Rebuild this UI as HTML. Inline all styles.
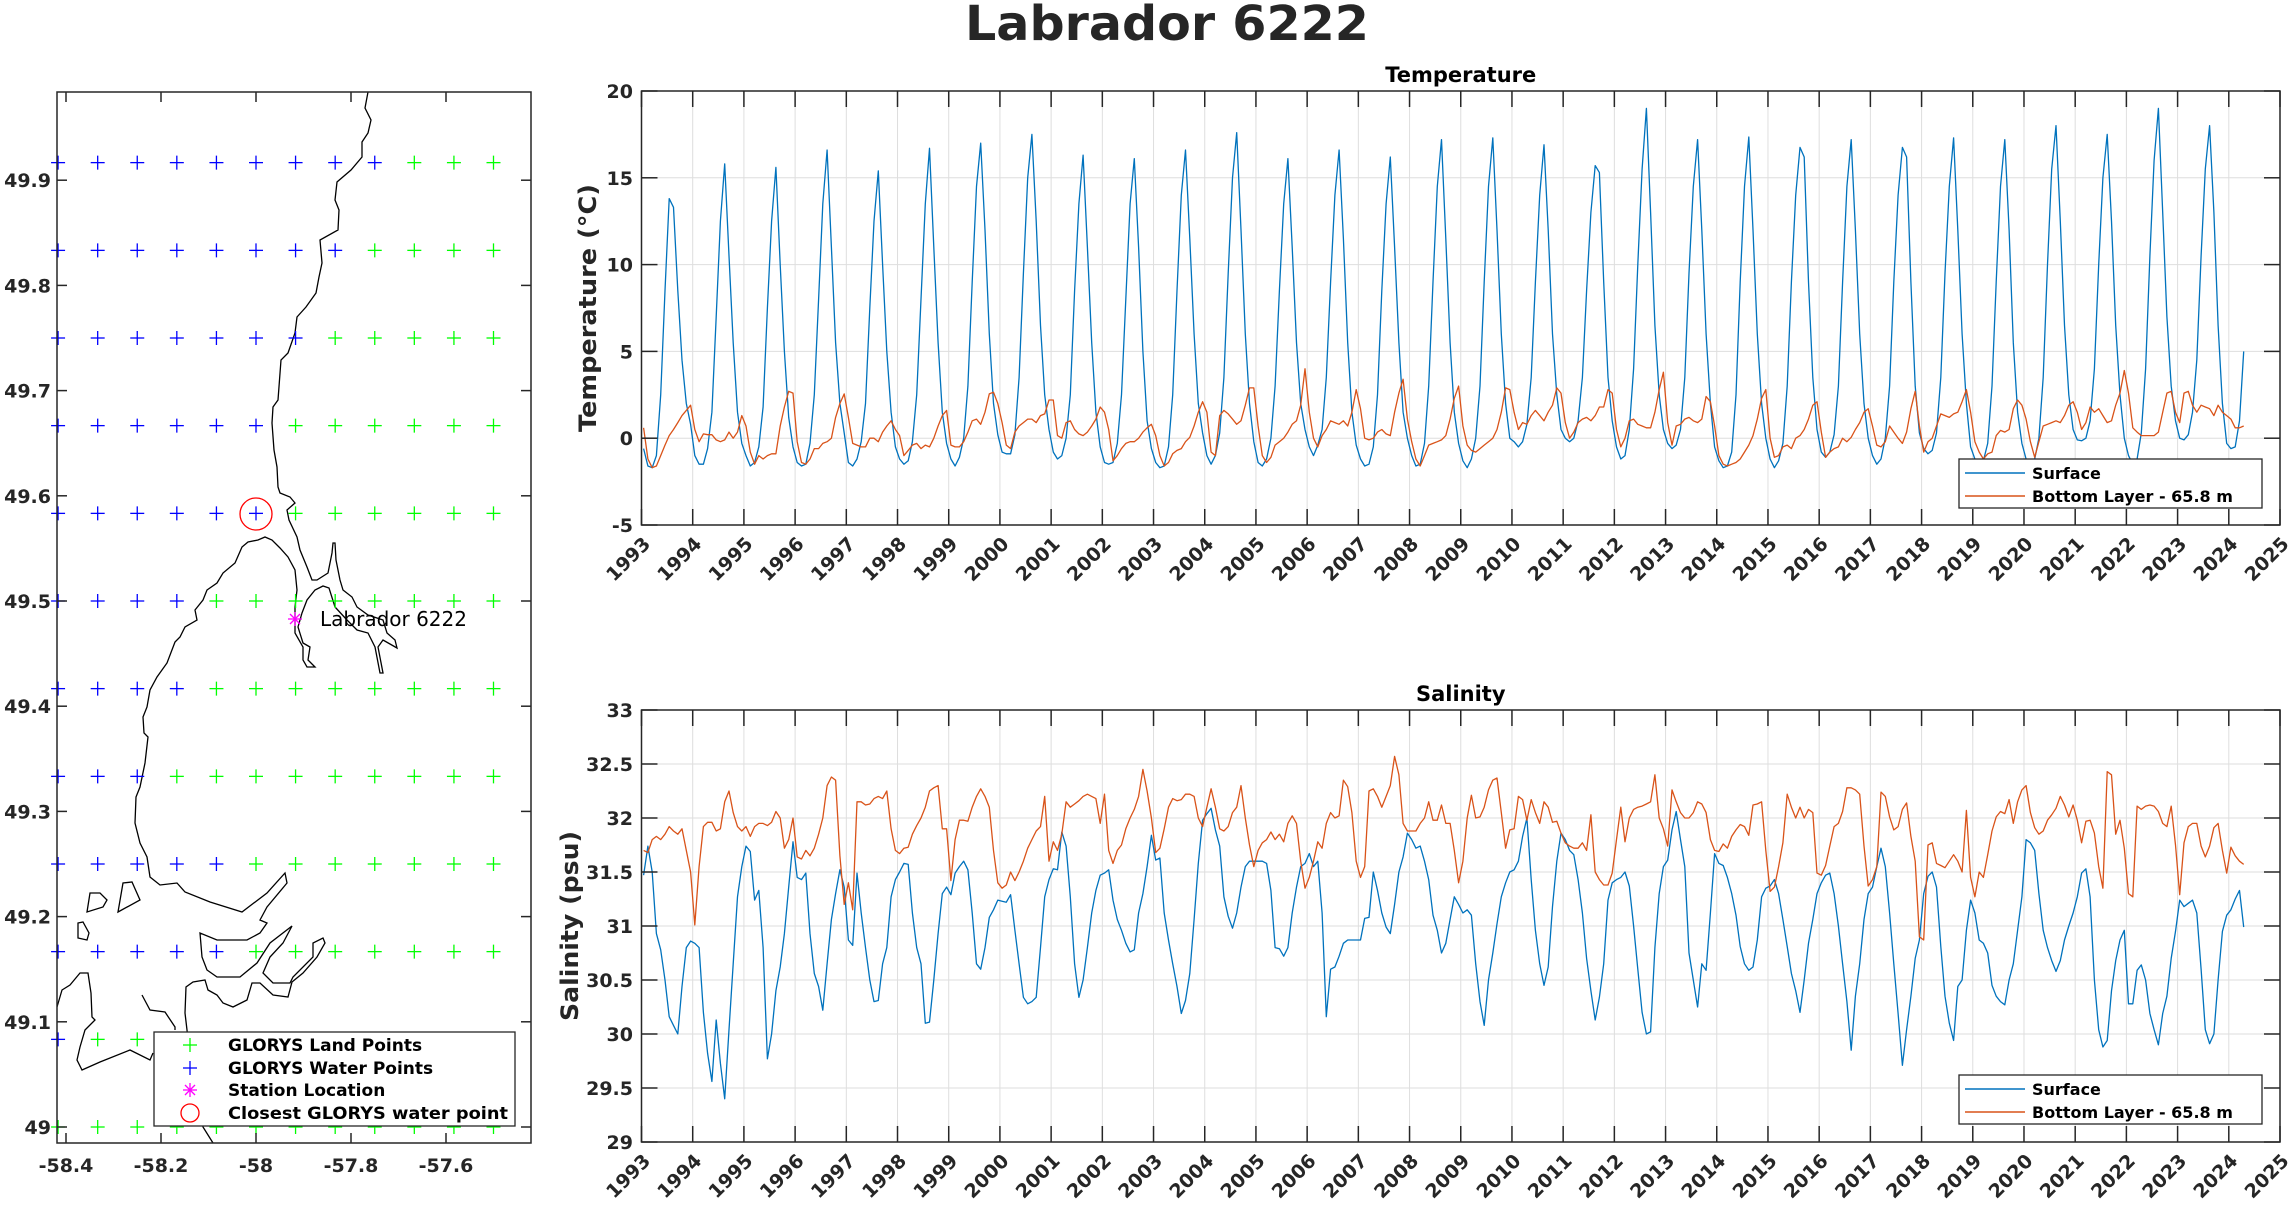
<!DOCTYPE html>
<html><head><meta charset="utf-8"><title>Labrador 6222</title>
<style>
html,body{margin:0;padding:0;background:#fff;}
svg{display:block;font-family:"DejaVu Sans","Liberation Sans",sans-serif;}
.tk{font-weight:bold;font-size:19px;fill:#262626;}
</style></head>
<body>
<svg id="fig" width="2292" height="1205" viewBox="0 0 2292 1205" xmlns="http://www.w3.org/2000/svg">
<rect x="0" y="0" width="2292" height="1205" fill="#fff"/>
<text x="1167" y="40" text-anchor="middle" font-size="48" font-weight="bold" fill="#262626" textLength="404" lengthAdjust="spacingAndGlyphs">Labrador 6222</text>

<g id="map">
<defs><clipPath id="mapclip"><rect x="57" y="92" width="474" height="1051"/></clipPath></defs>
<rect x="57" y="92" width="474" height="1051" fill="#fff"/>
<g clip-path="url(#mapclip)" fill="none" stroke="#000" stroke-width="1.3">
<polyline points="368,92 365,108 371,120 368,133 362,142 362,157 351,170 337,182 335,200 339,210 338,230 320,240 322,263 319,277 316,293 306,307 297,317 295,333 288,353 281,360 278,400 273,407 272,423 274,450 277,467 278,487 280,493 290,497 295,503 287,510 289,520 297,537 300,550 307,567 312,580 317,580 328,573 332,553 333,543 335,543 336,560 340,580 343,590 352,597 357,607 368,615 383,620 387,633 395,640 397,648 383,640 378,647 383,673 380,673 375,647 368,633 357,630 347,620 335,607 329,588 323,586 315,590 307,600 302,613 298,627 303,643 310,647 308,660 315,667 307,667 303,660 303,647 295,633 295,607 297,590 295,570 288,557 280,548 272,540 265,537 258,540 248,542 242,547 235,563 223,573 217,583 207,590 203,600 195,610 197,620 185,627 180,637 175,642 167,663 157,677 150,690 147,707 143,717 144,733 148,737 145,763 140,787 136,797 135,823 140,843 147,857 150,877 160,885 177,883 185,892 210,902 242,912 267,893 285,873 287,883 267,907 260,920 267,923 260,933 247,940 217,940 200,933 202,957 207,970 217,977 240,977 257,963 270,943 292,926 283,943 270,957 263,973 273,983 290,983 293,977 313,957 313,943 323,938 325,943 317,957 303,973 292,982 288,997 273,995 260,983 252,983 247,1000 233,1007 223,1003 217,995 208,990 205,980 193,982 186,987 185,1013 187,1030 190,1060 195,1090 203,1127 213,1143"/>
<polyline points="57,1007 62,990 70,985 80,973 88,973 91,993 92,1017 95,1020 85,1030 80,1047 77,1060 82,1070 100,1062 130,1050 150,1060 153,1053"/>
<polygon points="90,893 100,893 107,900 103,907 87,912"/>
<polygon points="118,912 140,900 132,882 123,883"/>
<polygon points="78,923 83,922 89,933 87,940 78,938"/>
<polyline points="142,995 150,1010 165,1012 175,1027 175,1030"/>
</g>
<g id="map-points"></g>
<circle cx="256" cy="514" r="16" fill="none" stroke="#ff0000" stroke-width="1.3"/>
<g stroke="#ff00ff" stroke-width="1.3">
<line x1="288" y1="619" x2="302" y2="619"/><line x1="295" y1="612" x2="295" y2="626"/><line x1="290" y1="614" x2="300" y2="624"/><line x1="290" y1="624" x2="300" y2="614"/>
</g>
<text x="320" y="626" font-size="20" fill="#000">Labrador 6222</text>
<rect x="57" y="92" width="474" height="1051" fill="none" stroke="#262626" stroke-width="1.5"/>
<g id="map-ticks" stroke="#262626" stroke-width="1.5"></g>
<g id="map-labels"></g>
<g>
<rect x="154" y="1032" width="361" height="94" fill="#fff" stroke="#262626" stroke-width="1.3"/>
<g stroke="#00ff00" stroke-width="1.3"><line x1="183" y1="1045" x2="197" y2="1045"/><line x1="190" y1="1038" x2="190" y2="1052"/></g>
<g stroke="#0000ff" stroke-width="1.3"><line x1="183" y1="1068" x2="197" y2="1068"/><line x1="190" y1="1061" x2="190" y2="1075"/></g>
<g stroke="#ff00ff" stroke-width="1.3"><line x1="183" y1="1090" x2="197" y2="1090"/><line x1="190" y1="1083" x2="190" y2="1097"/><line x1="185" y1="1085" x2="195" y2="1095"/><line x1="185" y1="1095" x2="195" y2="1085"/></g>
<circle cx="190" cy="1113" r="9" fill="none" stroke="#ff0000" stroke-width="1.3"/>
<g font-size="17" font-weight="bold" fill="#000">
<text x="228" y="1051">GLORYS Land Points</text>
<text x="228" y="1074">GLORYS Water Points</text>
<text x="228" y="1096">Station Location</text>
<text x="228" y="1119" textLength="280" lengthAdjust="spacingAndGlyphs">Closest GLORYS water point</text>
</g>
</g>
</g>

<g id="temp"></g>
<g id="sal"></g>
</svg>

<script>
// ---------- data ----------
const startYear = 1993;
const yearTicks = [1993,1994,1995,1996,1997,1998,1999,2000,2001,2002,2003,2004,2005,2006,2007,2008,2009,2010,2011,2012,2013,2014,2015,2016,2017,2018,2019,2020,2021,2022,2023,2024,2025];
const tempTicks = [-5,0,5,10,15,20];
const salTicks = [29,29.5,30,30.5,31,31.5,32,32.5,33];
const tempTickLabels = ['-5','0','5','10','15','20'];
const salTickLabels = ['29','29.5','30','30.5','31','31.5','32','32.5','33'];
const legendLabels = ['Surface','Bottom Layer - 65.8 m'];

const surfaceTemp = [
-0.6,-1.6,-1.7,-1.0,2.5,8.5,13.8,13.3,8.5,4.5,2.0,0.8,
-1.0,-1.5,-1.5,-0.6,1.5,7.0,12.5,15.8,10.5,5.5,1.5,-0.3,
-1.0,-1.6,-1.4,-0.5,1.8,7.5,12.5,15.6,10.0,5.0,1.2,-0.5,
-1.4,-1.6,-1.5,-0.3,2.5,8.0,13.5,16.6,11.0,5.5,2.0,0.3,
-1.4,-1.6,-1.2,-0.2,2.0,7.5,12.5,15.4,10.0,5.0,1.5,-0.5,
-1.2,-1.5,-1.3,-0.2,2.5,8.0,13.5,16.7,11.0,5.5,1.5,-0.3,
-1.2,-1.6,-1.1,0,3.0,9.0,14.5,17.0,12.0,6.0,2.0,0.2,
-0.8,-0.9,-0.9,0.2,3.5,9.5,15.0,17.5,12.5,6.5,2.5,0.5,
-0.8,-1.2,-1.0,0,2.5,8.5,13.5,16.3,11.0,5.5,1.5,-0.5,
-1.4,-1.5,-1.4,-0.3,2.5,8.0,13.5,16.1,11.0,5.0,1.0,-0.6,
-1.4,-1.7,-1.6,-0.5,2.5,8.5,14.0,16.6,11.5,6.0,2.0,0.3,
-1.0,-1.5,-1.0,0.3,3.5,9.5,15.0,17.6,12.0,6.0,2.0,-0.2,
-1.4,-1.6,-1.2,0,3.0,8.5,13.5,16.1,11.0,5.5,2.0,0.5,
-0.5,-1.0,-0.4,0.5,3.5,9.0,14.0,16.6,11.5,5.5,1.5,-0.4,
-1.2,-1.6,-1.5,-0.5,2.5,8.5,13.5,16.2,11.0,5.5,1.5,0,
-1.0,-1.6,-1.5,-0.3,3.0,9.0,14.5,17.2,11.5,5.5,1.5,-0.3,
-1.3,-1.7,-1.2,0,3.0,9.0,14.5,17.3,12.0,6.0,2.0,0,
-0.2,-0.5,-0.2,0.8,3.5,9.0,14.0,16.9,12.0,6.0,2.5,0.5,
0,-0.2,0,1.0,3.5,8.5,13.0,15.7,15.3,9.0,3.5,1.0,
-0.5,-1.2,-1.0,0.5,4.0,10.0,15.5,19.0,13.0,6.5,2.5,0.5,
-0.3,-0.6,-0.4,0.5,3.5,9.5,14.5,17.2,12.0,6.0,2.0,-0.5,
-1.3,-1.7,-1.6,-0.8,2.5,9.0,14.5,17.35,12.0,6.0,2.0,0,
-1.2,-1.7,-1.3,-0.3,3.0,9.0,14.0,16.75,16.2,9.0,3.5,0.5,
-0.8,-1.1,-0.8,0.2,3.0,9.0,14.5,17.2,12.0,6.0,2.0,0,
-1.0,-1.5,-1.2,0,3.0,9.0,14.0,16.75,16.2,9.0,3.0,0.3,
-0.6,-0.9,-0.7,0.3,3.5,9.5,14.5,17.3,12.0,6.0,2.0,-0.5,
-1.2,-1.5,-1.3,-0.3,3.0,9.0,14.5,17.2,12.0,5.5,1.5,-0.3,
-1.2,-1.5,-1.2,0,3.5,10.0,15.5,18.0,12.5,6.5,2.5,0.5,
-0.1,-0.15,0,1.0,4.0,10.0,15.0,17.5,12.5,6.5,2.5,0,
-1.0,-1.5,-1.2,0.3,4.0,10.5,16.0,19.0,13.0,7.0,3.0,1.0,
0,-0.1,0.2,1.5,4.5,10.5,15.5,18.0,13.0,6.5,2.0,-0.3,
-0.6,-0.5,1.0,5.0];

const bottomTemp = [
0.6,-1.2,-1.7,-1.6,-1.0,-0.4,0.15,0.5,0.9,1.3,1.6,1.9,
0.5,-0.2,0.25,0.2,0.2,-0.1,-0.2,-0.1,0.35,0,0.35,1.3,
0.7,-0.8,-1.5,-1.0,-1.2,-1.0,-0.9,-0.9,0.7,1.8,2.7,2.6,
-0.2,-1.4,-1.5,-1.2,-0.6,-0.6,-0.3,-0.2,0,1.2,2.0,2.55,
1.2,-0.3,-0.4,-0.5,-0.5,0,0,-0.2,0.35,0.7,1.0,0.5,
0.15,-1.0,-0.7,-0.4,-0.3,-0.6,-0.4,-0.5,0,0.7,1.3,1.6,
-0.4,-0.5,-0.5,-0.2,0.35,1.0,1.1,0.8,1.5,2.55,2.65,2.0,
0.9,-0.4,-0.6,0.35,0.7,0.9,1.1,1.1,0.9,1.3,1.4,2.2,
2.2,0.15,0,0.9,1.0,0.5,0.25,0.15,0.35,0.7,1.1,1.8,
1.5,0.5,-1.3,-1.0,-0.6,-0.3,-0.2,-0.2,0,0.35,0.6,0.8,
0.15,-1.0,-1.6,-1.4,-0.9,-0.7,-0.6,-0.2,0.05,0.7,1.5,2.1,
1.5,-0.8,-1.0,1.3,1.6,1.4,1.1,0.8,1.0,1.9,2.9,2.9,
0.7,-1.0,-1.4,-1.1,-0.4,-0.2,0,0.35,0.8,1.0,1.9,4.0,
1.5,0,-0.5,0.15,0.5,1.0,0.9,0.8,1.0,0.7,1.5,2.8,
1.7,0,-0.1,0,0.35,0.5,0.25,0.15,1.5,2.6,3.4,1.1,
-0.2,-1.2,-1.6,-1.0,-0.4,-0.3,-0.2,-0.1,0.15,1.1,2.3,3.0,
0.7,-0.4,-0.7,-0.8,-0.6,-0.4,-0.2,0,0.5,1.5,2.9,2.8,
1.5,0.5,0.9,0.8,1.3,1.6,1.3,1.0,1.5,1.9,2.9,2.6,
0.9,0,0.35,0.9,1.1,1.2,1.0,1.3,1.8,1.8,2.8,2.6,
0.5,-0.5,0,1.0,1.1,0.8,0.7,0.6,0.6,1.5,2.8,3.8,
0.9,-0.4,0.7,0.8,1.1,1.2,1.0,0.9,1.1,2.4,2.1,0.7,
-1.0,-1.5,-1.6,-1.5,-1.4,-1.2,-0.8,-0.4,0.15,1.1,2.3,2.8,
0,-1.1,-1.0,-0.5,-0.4,-0.6,0,0.15,0.5,1.1,1.9,2.1,
0.35,-1.1,-0.8,-0.6,-0.5,0,-0.2,0.05,0.5,0.9,1.5,1.7,
0.7,-0.4,-0.5,-0.2,0.7,0.35,0,-0.3,0.35,1.7,2.7,0.7,
-0.8,-0.2,0,0.7,1.4,1.3,1.2,1.4,1.5,2.1,2.8,1.5,
-0.2,-0.8,-1.2,-0.9,-0.8,0.15,0.45,0.35,0.5,1.7,2.2,1.9,
1.1,-0.2,-1.1,-0.2,0.7,0.8,0.9,1.0,0.9,1.3,1.9,2.1,
1.5,0.5,0.9,1.8,1.5,1.7,1.3,0.9,1.0,1.9,2.6,3.9,
2.6,0.6,0.35,0.15,0.15,0.15,0.15,0.35,1.5,2.6,2.7,1.5,
0.9,2.6,2.7,1.9,1.5,1.9,1.8,1.7,1.3,1.9,1.5,1.3,
1.1,0.6,0.6,0.7];

const surfaceSal = [
31.47,31.74,31.5,30.93,30.78,30.5,30.16,30.08,30.0,30.44,30.8,30.86,
30.84,30.8,30.2,29.82,29.56,30.13,29.73,29.4,30.04,30.65,31.27,31.55,
31.74,31.69,31.24,31.33,30.8,29.77,30.0,30.4,30.62,30.93,31.36,31.78,
31.45,31.43,31.49,30.93,30.56,30.44,30.22,30.65,31.06,31.3,31.52,31.36,
30.87,30.82,31.49,31.12,30.8,30.5,30.3,30.31,30.65,30.8,31.27,31.43,
31.5,31.58,31.57,31.12,30.8,30.65,30.1,30.11,30.5,30.93,31.3,31.36,
31.29,31.49,31.55,31.6,31.52,31.12,30.65,30.6,30.8,31.08,31.15,31.24,
31.23,31.22,31.29,30.96,30.65,30.34,30.28,30.3,30.34,30.8,31.27,31.43,
31.53,31.52,31.87,31.74,31.27,30.65,30.34,30.5,30.8,31.12,31.33,31.47,
31.49,31.52,31.24,31.06,30.96,30.84,30.76,30.78,31.12,31.3,31.55,31.84,
31.61,31.63,31.12,30.87,30.65,30.44,30.19,30.31,30.56,31.06,31.58,31.98,
32.04,32.09,31.89,31.74,31.27,31.09,30.98,31.12,31.36,31.55,31.6,31.6,
31.6,31.6,31.58,31.33,30.8,30.79,30.72,30.8,31.12,31.36,31.55,31.58,
31.67,31.55,31.6,31.12,30.16,30.6,30.62,30.72,30.84,30.87,30.87,30.87,
30.87,31.07,31.08,31.5,31.33,31.12,30.99,30.93,31.2,31.5,31.64,31.86,
31.8,31.72,31.74,31.6,31.43,31.1,30.96,30.75,30.84,31.06,31.27,31.2,
31.12,31.15,31.1,30.65,30.3,30.08,30.5,30.75,31.02,31.27,31.4,31.5,
31.52,31.6,31.83,32.0,31.43,30.96,30.65,30.45,30.62,31.18,31.6,31.86,
31.8,31.7,31.66,31.43,31.12,30.7,30.4,30.13,30.34,30.65,31.24,31.4,
31.43,31.45,31.5,31.37,31.0,30.6,30.2,30.0,30.02,30.8,31.3,31.55,
31.61,31.89,32.06,31.8,31.55,30.75,30.5,30.25,30.65,30.59,31.12,31.67,
31.58,31.56,31.45,31.3,31.1,30.81,30.65,30.59,30.62,30.87,31.27,31.35,
31.37,31.43,31.3,31.06,30.81,30.56,30.4,30.2,30.5,30.84,31.06,31.3,
31.4,31.47,31.49,31.3,31.0,30.65,30.3,29.85,30.35,30.65,31.06,31.3,
31.36,31.55,31.72,31.55,31.12,30.65,30.19,29.71,30.04,30.35,30.7,30.87,
31.3,31.46,31.5,31.36,30.81,30.35,30.1,29.94,30.44,30.5,30.96,31.24,
31.12,30.87,30.84,30.75,30.45,30.35,30.3,30.27,30.5,30.65,30.96,31.27,
31.8,31.77,31.7,31.3,30.96,30.8,30.68,30.58,30.68,30.87,31.0,31.12,
31.27,31.49,31.53,31.27,30.5,30.04,29.88,29.94,30.4,30.68,30.87,30.96,
30.28,30.28,30.59,30.64,30.5,30.19,30.04,29.9,30.19,30.35,30.7,30.95,
31.24,31.18,31.21,31.24,31.12,30.6,30.04,29.91,30.0,30.5,30.95,31.1,
31.15,31.25,31.33,30.99];

const bottomSal = [
31.7,31.68,31.8,31.83,31.8,31.85,31.92,31.88,31.85,31.9,31.7,31.5,
31.01,31.55,31.92,31.96,31.96,31.88,31.9,32.15,32.25,32.05,31.92,31.88,
31.92,31.83,31.92,31.95,31.95,31.93,31.96,32.06,32.0,31.72,31.8,32.0,
31.64,31.62,31.7,31.65,31.72,31.85,32.0,32.3,32.38,32.35,31.65,31.2,
31.4,31.15,32.15,32.15,32.12,32.13,32.18,32.2,32.18,32.25,31.9,31.7,
31.67,31.72,31.73,31.85,31.93,32.0,32.1,32.25,32.28,32.3,31.9,31.9,
31.42,31.8,31.98,31.98,31.97,32.1,32.2,32.27,32.2,32.1,31.7,31.4,
31.35,31.38,31.5,31.42,31.5,31.6,31.72,31.8,31.88,31.92,32.2,31.6,
31.78,31.7,31.85,32.15,32.1,32.13,32.16,32.2,32.22,32.2,32.18,31.95,
32.22,31.7,31.58,31.7,31.75,31.9,32.0,32.08,32.2,32.45,32.25,32.0,
31.68,31.72,31.9,32.1,32.18,32.16,32.17,32.22,32.22,32.2,32.0,31.92,
32.1,32.27,32.1,31.9,31.88,31.92,32.05,32.1,32.3,32.0,31.75,31.55,
31.7,31.77,31.8,31.87,31.8,31.85,31.78,31.95,32.02,31.95,31.6,31.35,
31.45,31.6,31.78,31.72,31.95,32.05,32.0,32.02,32.35,32.29,32.05,31.6,
31.45,31.55,32.25,32.27,32.2,32.1,32.2,32.3,32.57,32.4,31.95,31.88,
31.88,31.88,31.95,32.0,32.15,31.98,31.98,32.12,31.95,31.95,31.7,31.4,
31.6,32.0,32.21,32.0,32.01,32.1,32.26,32.35,32.37,32.05,31.72,31.89,
31.9,32.2,32.17,31.98,32.17,32.05,31.95,32.15,32.1,31.96,31.97,31.86,
31.77,31.74,31.72,31.72,31.77,31.7,32.03,31.5,31.43,31.38,31.38,31.49,
31.8,32.1,31.78,32.0,32.08,32.1,32.11,32.13,32.15,32.4,32.0,31.9,
31.74,32.26,32.15,32.05,32.0,32.0,32.05,32.15,32.13,32.05,31.8,31.7,
31.69,31.76,31.72,31.83,31.89,31.94,31.92,31.84,32.12,32.13,32.15,31.7,
31.32,31.36,31.55,31.77,32.22,32.1,32.0,32.1,32.0,32.08,32.05,31.49,
31.47,31.56,31.74,31.92,31.95,32.06,32.28,32.28,32.26,32.22,31.74,31.37,
31.43,31.55,32.24,32.2,32.01,31.89,31.92,32.08,32.14,31.83,31.6,30.9,
30.87,31.75,31.77,31.58,31.56,31.54,31.6,31.66,31.6,31.5,32.07,31.45,
31.27,31.5,31.45,31.66,31.88,32.01,32.06,32.04,32.17,31.95,32.15,32.26,
32.3,32.05,31.91,31.85,31.88,31.98,32.03,32.09,32.2,32.12,32.01,32.12,
31.98,31.77,31.97,31.98,31.86,31.55,31.35,32.43,32.4,31.85,31.98,31.72,
31.3,31.27,32.11,32.08,32.11,32.12,32.11,32.06,31.95,31.92,32.11,31.75,
31.29,31.77,31.92,31.95,31.95,31.74,31.64,31.74,31.91,31.95,31.7,31.49,
31.73,31.65,31.6,31.57];

// map data
const gridLons = [-58.4167,-58.3333,-58.25,-58.1667,-58.0833,-58.0,-57.9167,-57.8333,-57.75,-57.6667,-57.5833,-57.5];
const gridLats = [49.9167,49.8333,49.75,49.6667,49.5833,49.5,49.4167,49.3333,49.25,49.1667,49.0833,49.0];
const waterCount = [9,8,7,6,6,4,4,3,5,5,1,0];
const lonTicks = [-58.4,-58.2,-58,-57.8,-57.6];
const latTicks = [49,49.1,49.2,49.3,49.4,49.5,49.6,49.7,49.8,49.9];

// ---------- helpers ----------
const NS = 'http://www.w3.org/2000/svg';
function mk(tag, attrs, parent){ const e=document.createElementNS(NS,tag); for(const k in attrs) e.setAttribute(k,attrs[k]); parent.appendChild(e); return e; }

// map axes
const mx = lon => 256 + (lon + 58) * 475;
const my = lat => 1127 - (lat - 49) * 1052;
const mp = document.getElementById('map-points');
gridLats.forEach((lat, r) => {
  gridLons.forEach((lon, c) => {
    const x = mx(lon), y = my(lat);
    const col = c < waterCount[r] ? '#0000ff' : '#00ff00';
    const g = mk('g', {stroke: col, 'stroke-width': 1.3}, mp);
    
    
    mk('line', {x1: x-7, y1: y, x2: x+7, y2: y}, g);
    mk('line', {x1: x, y1: y-7, x2: x, y2: y+7}, g);
  });
});
const mt = document.getElementById('map-ticks'), ml = document.getElementById('map-labels');
lonTicks.forEach(v => {
  const x = mx(v);
  mk('line', {x1: x, y1: 1143, x2: x, y2: 1133}, mt);
  mk('line', {x1: x, y1: 92, x2: x, y2: 102}, mt);
  const t = mk('text', {x: x, y: 1172, 'text-anchor': 'middle', class: 'tk', 'font-size': 20}, ml);
  
  
  t.textContent = String(v);
});
latTicks.forEach(v => {
  const y = my(v);
  mk('line', {x1: 57, y1: y, x2: 67, y2: y}, mt);
  mk('line', {x1: 531, y1: y, x2: 521, y2: y}, mt);
  const t = mk('text', {x: 51, y: y+7, 'text-anchor': 'end', class: 'tk', 'font-size': 20}, ml);
  
  
  t.textContent = v.toFixed(v === 49 ? 0 : 1);
});

// time-series panels
const X0 = 641.5, X1 = 2280, pxYear = (X1 - X0) / 32;
const tx = t => X0 + (t - startYear) * pxYear;

function panel(root, top, bot, vmin, vmax, ticks, tickLabels, title, ylabel, ylabLen, series, legTop){
  const g = document.getElementById(root);
  const ty = v => bot - (v - vmin) / (vmax - vmin) * (bot - top);
  mk('rect', {x: X0, y: top, width: X1-X0, height: bot-top, fill: '#fff'}, g);
  const grid = mk('g', {stroke: '#dedede', 'stroke-width': 1}, g);
  
  
  yearTicks.forEach(y => mk('line', {x1: tx(y), y1: top, x2: tx(y), y2: bot}, grid));
  ticks.forEach(v => mk('line', {x1: X0, y1: ty(v), x2: X1, y2: ty(v)}, grid));
  const cols = ['#0072BD', '#D95319'];
  series.forEach((s, k) => {
    const pts = s.map((v, i) => tx(startYear + (i + 0.5) / 12).toFixed(1) + ',' + ty(v).toFixed(1)).join(' ');
    const pl = mk('polyline', {points: pts, fill: 'none', stroke: cols[k], 'stroke-width': 1.3, 'stroke-linejoin': 'round'}, g);
    
    
  });
  const ax = mk('g', {stroke: '#262626', 'stroke-width': 1.5}, g);
  
  
  mk('rect', {x: X0, y: top, width: X1-X0, height: bot-top, fill: 'none'}, ax);
  yearTicks.forEach(y => { mk('line', {x1: tx(y), y1: bot, x2: tx(y), y2: bot-16}, ax); mk('line', {x1: tx(y), y1: top, x2: tx(y), y2: top+16}, ax); });
  ticks.forEach(v => { mk('line', {x1: X0, y1: ty(v), x2: X0+16, y2: ty(v)}, ax); mk('line', {x1: X1, y1: ty(v), x2: X1-16, y2: ty(v)}, ax); });
  yearTicks.forEach(y => {
    const x = tx(y) + 10, yy = bot + 20;
    const t = mk('text', {x: x, y: yy, 'text-anchor': 'end', class: 'tk', transform: 'rotate(-45 ' + x + ' ' + yy + ')'}, g);
    
    
    t.textContent = String(y);
  });
  ticks.forEach((v, i) => {
    const t = mk('text', {x: 633, y: ty(v) + 7, 'text-anchor': 'end', class: 'tk', 'font-size': 20}, g);
    
    
    t.textContent = tickLabels[i];
  });
  const tt = mk('text', {x: (X0+X1)/2, y: top - 9, 'text-anchor': 'middle', 'font-size': 21, 'font-weight': 'bold', fill: '#000'}, g);
  
  
  tt.textContent = title;
  const cy = (top + bot) / 2, lx = root === 'temp' ? 596 : 578;
  const yl = mk('text', {x: lx, y: cy, 'text-anchor': 'middle', 'font-size': 24, 'font-weight': 'bold', fill: '#262626', textLength: ylabLen, lengthAdjust: 'spacingAndGlyphs', transform: 'rotate(-90 ' + lx + ' ' + cy + ')'}, g);
  
  
  yl.textContent = ylabel;
  const lg = mk('g', {}, g);
  
  
  mk('rect', {x: 1959, y: legTop, width: 303, height: 49, fill: '#fff', stroke: '#262626', 'stroke-width': 1.3}, lg);
  legendLabels.forEach((lab, k) => {
    const yy = legTop + 14 + k * 23;
    mk('line', {x1: 1965, y1: yy, x2: 2025, y2: yy, stroke: cols[k], 'stroke-width': 1.5}, lg);
    const t = mk('text', {x: 2032, y: yy + 6, 'font-size': 16, 'font-weight': 'bold', fill: '#000'}, lg);
    
    
    t.textContent = lab;
  });
}
panel('temp', 91, 525, -5, 20, tempTicks, tempTickLabels, 'Temperature', 'Temperature (°C)', 248, [surfaceTemp, bottomTemp], 459);
panel('sal', 710, 1142, 29, 33, salTicks, salTickLabels, 'Salinity', 'Salinity (psu)', 190, [surfaceSal, bottomSal], 1075);
</script>
</body></html>
